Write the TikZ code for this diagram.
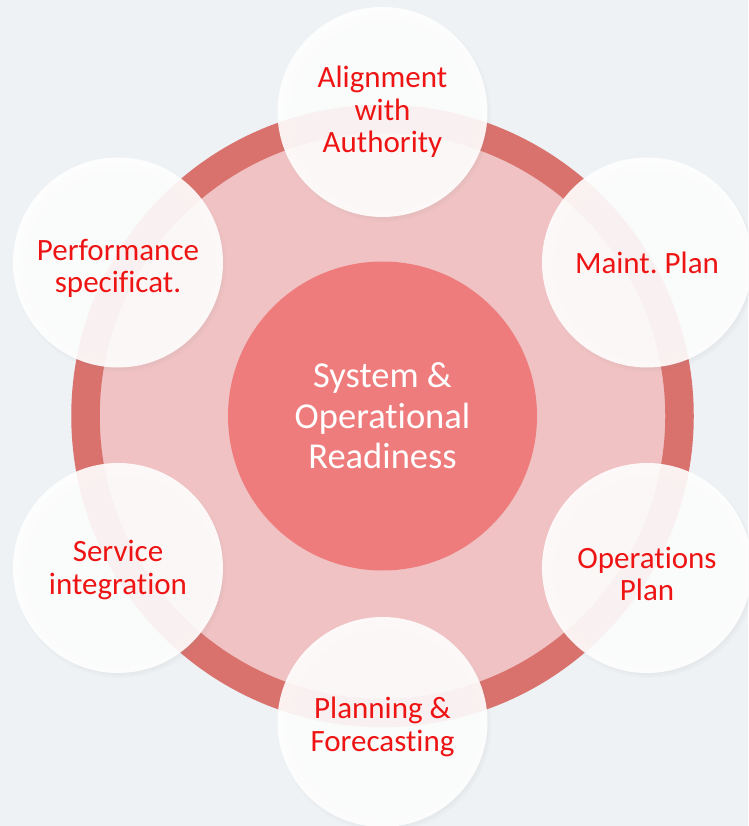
\documentclass[tikz,border=0pt]{standalone}
\usepackage{fontspec}
\setmainfont{Carlito}[Ligatures={NoCommon,NoRare,NoContextual}]
\usetikzlibrary{shadows}
\definecolor{bgc}{HTML}{EEF2F5}
\definecolor{ringc}{HTML}{D9726D}
\definecolor{innerc}{HTML}{F0C2C3}
\definecolor{corec}{HTML}{EF7C7C}
\definecolor{txtred}{HTML}{EE1414}
\frenchspacing
\begin{document}
\begin{tikzpicture}[x=1pt,y=-1pt,
  sat/.style={circle, minimum size=210pt, inner sep=0pt, fill=white, fill opacity=0.9,
    circular drop shadow={shadow xshift=2pt, shadow yshift=-3pt, shadow scale=1.02, opacity=0.22}},
  sattext/.style={inner sep=0pt, text=txtred, align=center, font=\fontsize{31}{32.5}\selectfont},
  corestyle/.style={circle, minimum size=309pt, inner sep=0pt, fill=corec, text=white, align=center,
    font=\fontsize{36.5}{40.5}\selectfont}]
\fill[bgc] (0,0) rectangle (748,826);
\useasboundingbox (0,0) rectangle (748,826);
\draw[ringc, line width=28.5pt, fill=innerc] (382.5,416) circle[radius=297pt];
\node[corestyle] (core) at (382.5,416) {System \&\\Operational\\Readiness};
\node[sat] (n1) at (382.5,112) {};
\node[sat] (n2) at (647,262.5) {};
\node[sat] (n3) at (647,568) {};
\node[sat] (n4) at (382.5,722) {};
\node[sat] (n5) at (118,568) {};
\node[sat] (n6) at (118,262.5) {};
\node[sattext] (t1) at ([yshift=0pt]n1.center) {Alignment\\with\\Authority};
\node[sattext] (t2) at ([yshift=0pt]n2.center) {Maint. Plan};
\node[sattext] (t3) at ([yshift=-6pt]n3.center) {Operations\\Plan};
\node[sattext] (t4) at ([yshift=-5pt]n4.center) {Planning \&\\Forecasting};
\node[sattext] (t5) at ([yshift=-2pt]n5.center) {Service\\integration};
\node[sattext] (t6) at ([yshift=-6pt]n6.center) {Performance\\specificat.};
\end{tikzpicture}
\end{document}
